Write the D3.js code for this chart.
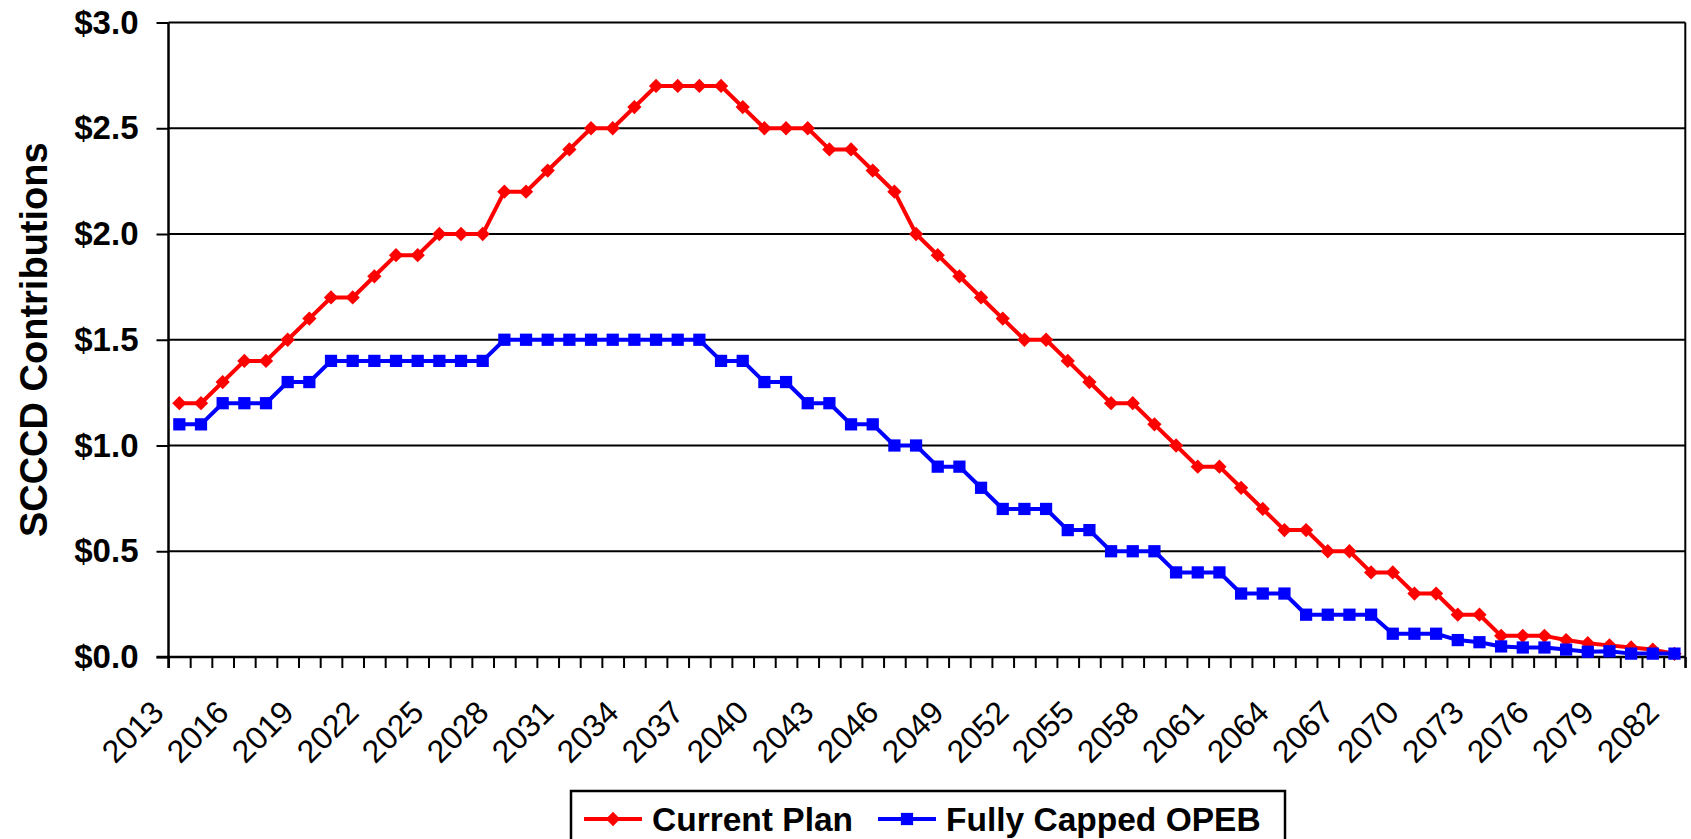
<!DOCTYPE html>
<html>
<head>
<meta charset="UTF-8">
<title>SCCCD Contributions</title>
<script src="https://d3js.org/d3.v7.min.js"></script>
<style>
	body { margin: 0; background: #fff; }
	svg text { font-family: Arial, "Liberation Sans", sans-serif; fill: #000; }
</style>
</head>
<body>
<svg id="chart" width="1691" height="839"></svg>
<script>
	// Years on the category axis
	var years = [2013,2014,2015,2016,2017,2018,2019,2020,2021,2022,
		2023,2024,2025,2026,2027,2028,2029,2030,2031,2032,
		2033,2034,2035,2036,2037,2038,2039,2040,2041,2042,
		2043,2044,2045,2046,2047,2048,2049,2050,2051,2052,
		2053,2054,2055,2056,2057,2058,2059,2060,2061,2062,
		2063,2064,2065,2066,2067,2068,2069,2070,2071,2072,
		2073,2074,2075,2076,2077,2078,2079,2080,2081,2082];

	// Current Plan ($ millions)
	var currentPlan = [1.2,1.2,1.3,1.4,1.4,1.5,1.6,1.7,1.7,1.8,
		1.9,1.9,2.0,2.0,2.0,2.2,2.2,2.3,2.4,2.5,
		2.5,2.6,2.7,2.7,2.7,2.7,2.6,2.5,2.5,2.5,
		2.4,2.4,2.3,2.2,2.0,1.9,1.8,1.7,1.6,1.5,
		1.5,1.4,1.3,1.2,1.2,1.1,1.0,0.9,0.9,0.8,
		0.7,0.6,0.6,0.5,0.5,0.4,0.4,0.3,0.3,0.2,
		0.2,0.1,0.1,0.1,0.08,0.065,0.055,0.045,0.035,0.015];

	// Fully Capped OPEB
	var fullyCapped = [1.1,1.1,1.2,1.2,1.2,1.3,1.3,1.4,1.4,1.4,
		1.4,1.4,1.4,1.4,1.4,1.5,1.5,1.5,1.5,1.5,
		1.5,1.5,1.5,1.5,1.5,1.4,1.4,1.3,1.3,1.2,
		1.2,1.1,1.1,1.0,1.0,0.9,0.9,0.8,0.7,0.7,
		0.7,0.6,0.6,0.5,0.5,0.5,0.4,0.4,0.4,0.3,
		0.3,0.3,0.2,0.2,0.2,0.2,0.11,0.11,0.11,0.08,
		0.07,0.05,0.045,0.045,0.035,0.025,0.027,0.016,0.016,0.016];

	var yTicks = [0, 0.5, 1.0, 1.5, 2.0, 2.5, 3.0];
	var seriesNames = ["Current Plan", "Fully Capped OPEB"];
	var seriesColors = ["#ff0000", "#0000ff"];

	var svg = d3.select("#chart");

	// plot box (note: "top" is taken by window.top, so prefixed names)
	var plotLeft = 168.5, plotRight = 1685.3, plotTop = 22.5, plotBottom = 657;

	var x = d3.scaleBand()
		.domain(years)
		.range([plotLeft, plotRight]);
	// boundaries of the categories, for the tick marks
	var xEdge = d3.scaleLinear()
		.domain([0, years.length])
		.range([plotLeft, plotRight]);
	var y = d3.scaleLinear()
		.domain([0, 3])
		.range([plotBottom, plotTop]);

	function cx(d, i){ return x(years[i]) + x.bandwidth() / 2; }

	// Gridlines
	svg.append("g")
		.selectAll("line")
		.data(yTicks.filter(function(d){ return d > 0; }))
		.enter()
		.append("line")
			.attr("x1", plotLeft)
			.attr("x2", plotRight)
			.attr("y1", function(d){ return y(d); })
			.attr("y2", function(d){ return y(d); })
			.attr("stroke", "#000")
			.attr("stroke-width", 2);

	// Right border of the plot
	svg.append("line")
		.attr("x1", plotRight).attr("x2", plotRight)
		.attr("y1", plotTop).attr("y2", plotBottom + 11)
		.attr("stroke", "#000")
		.attr("stroke-width", 2);

	// Y axis
	var yAxis = svg.append("g")
		.attr("transform", "translate(" + plotLeft + ",0)")
		.call(d3.axisLeft(y)
			.tickValues(yTicks)
			.tickSize(12)
			.tickPadding(18)
			.tickFormat(function(d){ return "$" + d.toFixed(1); }));
	yAxis.select(".domain").attr("stroke-width", 2.5).attr("d", "M0," + plotTop + "V" + (plotBottom + 11));
	yAxis.selectAll(".tick line").attr("stroke-width", 2);
	yAxis.selectAll(".tick text")
		.style("font-size", "33px")
		.style("font-weight", "bold");

	// X axis: tick marks between categories
	var xAxis = svg.append("g")
		.attr("transform", "translate(0," + plotBottom + ")")
		.call(d3.axisBottom(xEdge)
			.tickValues(d3.range(0, years.length + 1))
			.tickSize(11)
			.tickFormat(""));
	xAxis.select(".domain").attr("stroke-width", 2.5).attr("d", "M" + (plotLeft - 12) + ",0H" + plotRight);
	xAxis.selectAll(".tick line").attr("stroke-width", 2);

	// Year labels, every third year
	svg.append("g")
		.selectAll("text")
		.data(years.filter(function(d, i){ return i % 3 == 0; }))
		.enter()
		.append("text")
			.attr("transform", function(d){
				return "translate(" + (x(d) + x.bandwidth() / 2 - 30) + "," + (plotBottom + 41) + ") rotate(-45)";
			})
			.attr("text-anchor", "end")
			.attr("dy", "0.72em")
			.style("font-size", "32px")
			.text(function(d){ return d; });

	// Y axis title
	svg.append("text")
		.attr("transform", "translate(47," + ((plotTop + plotBottom) / 2) + ") rotate(-90)")
		.attr("text-anchor", "middle")
		.style("font-size", "38px")
		.style("font-weight", "bold")
		.text("SCCCD Contributions");

	var diamond = d3.symbol().type(d3.symbolDiamond2).size(130);
	var square = d3.symbol().type(d3.symbolSquare).size(150);

	function drawSeries(values, color, symbol){
		var line = d3.line()
			.x(cx)
			.y(function(d){ return y(d); });
		svg.append("path")
			.datum(values)
			.attr("d", line)
			.attr("fill", "none")
			.attr("stroke", color)
			.attr("stroke-width", 4)
			.attr("stroke-linejoin", "round");
		svg.append("g")
			.selectAll("path")
			.data(values)
			.enter()
			.append("path")
				.attr("d", symbol)
				.attr("transform", function(d, i){ return "translate(" + cx(d, i) + "," + y(d) + ")"; })
				.attr("fill", color);
	}

	drawSeries(currentPlan, seriesColors[0], diamond);
	drawSeries(fullyCapped, seriesColors[1], square);

	// Legend
	var legend = svg.append("g");
	legend.append("rect")
		.attr("x", 571).attr("y", 791)
		.attr("width", 714).attr("height", 70)
		.attr("fill", "#fff")
		.attr("stroke", "#000")
		.attr("stroke-width", 2.5);

	var legendX = [584, 878];
	var legendSym = [diamond, square];
	seriesNames.forEach(function(name, i){
		var g = legend.append("g").attr("transform", "translate(" + legendX[i] + ",819)");
		g.append("line")
			.attr("x1", 0).attr("x2", 58)
			.attr("stroke", seriesColors[i])
			.attr("stroke-width", 4);
		g.append("path")
			.attr("d", legendSym[i])
			.attr("transform", "translate(29,0)")
			.attr("fill", seriesColors[i]);
		g.append("text")
			.attr("x", 68)
			.attr("dy", "0.36em")
			.style("font-size", "33.5px")
			.style("font-weight", "bold")
			.text(name);
	});
</script>
</body>
</html>
